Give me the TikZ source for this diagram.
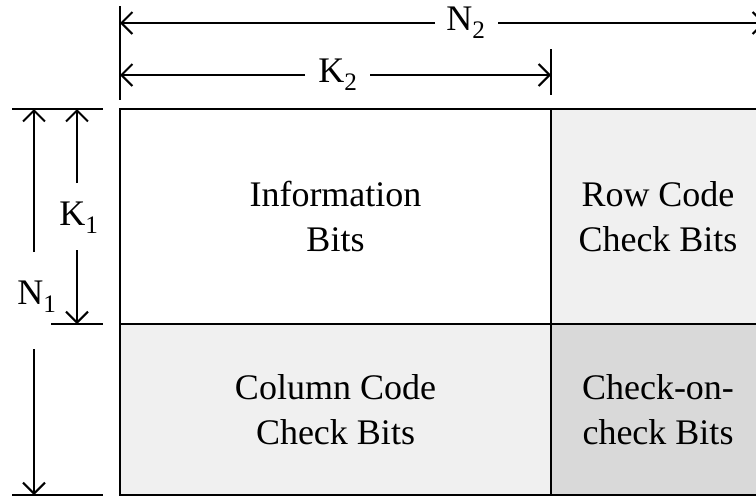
\documentclass[tikz,border=0pt]{standalone}
\usepackage{fontspec}
\setmainfont{Liberation Serif}
\usetikzlibrary{arrows.meta}
\definecolor{paritylight}{HTML}{F0F0F0}
\definecolor{paritydark}{HTML}{D9D9D9}
\tikzset{
  cell/.style={draw=black, line width=2pt},
  celltext/.style={align=center, font=\fontsize{36}{45}\selectfont, inner sep=0pt},
  dimtext/.style={font=\fontsize{36}{45}\selectfont, inner sep=0pt},
  extline/.style={line width=2pt},
  dimline/.style={line width=2pt, arrows={-Straight Barb[length=11pt,width=22pt,line width=2pt]}},
}
\begin{document}
\begin{tikzpicture}[x=1pt,y=-1pt]
\useasboundingbox (0,0) rectangle (756,496);

% product code array: four blocks
\fill[white]        (120,109) rectangle (551,324);
\fill[paritylight]  (551,109) rectangle (765,324);
\fill[paritylight]  (120,324) rectangle (551,495);
\fill[paritydark]   (551,324) rectangle (765,495);
\draw[cell] (120,109) rectangle (765,495);
\draw[cell] (551,109) -- (551,495);
\draw[cell] (120,324) -- (765,324);

\node[celltext] (info)  at (335.5,216.5) {Information\\Bits};
\node[celltext] (rowck) at (658,216.5)   {Row Code\\Check Bits};
\node[celltext] (colck) at (335.5,409.5) {Column Code\\Check Bits};
\node[celltext] (cock)  at (658,409.5)   {Check-on-\\check Bits};

% extension lines
\draw[extline] (120,6) -- (120,100);
\draw[extline] (551,49) -- (551,95);
\draw[extline] (12,109) -- (103,109);
\draw[extline] (51,324) -- (103,324);
\draw[extline] (12,495) -- (103,495);

% horizontal dimensions
\node[dimtext] (n2) at (466,23) {N\textsubscript{2}};
\coordinate (n2l) at (120,23);  \coordinate (n2la) at (435,23);
\coordinate (n2r) at (765,23);  \coordinate (n2ra) at (498,23);
\draw[dimline] (n2la) -- (n2l);
\draw[dimline] (n2ra) -- (n2r);

\node[dimtext] (k2) at (338,75) {K\textsubscript{2}};
\coordinate (k2l) at (120,75);  \coordinate (k2la) at (305,75);
\coordinate (k2r) at (551,75);  \coordinate (k2ra) at (370,75);
\draw[dimline] (k2la) -- (k2l);
\draw[dimline] (k2ra) -- (k2r);

% vertical dimensions
\node[dimtext] (k1) at (79,218) {K\textsubscript{1}};
\coordinate (k1t) at (77,109);  \coordinate (k1ta) at (77,183);
\coordinate (k1b) at (77,324);  \coordinate (k1ba) at (77,250);
\draw[dimline] (k1ta) -- (k1t);
\draw[dimline] (k1ba) -- (k1b);

\node[dimtext] (n1) at (37,297) {N\textsubscript{1}};
\coordinate (n1t) at (34,109);  \coordinate (n1ta) at (34,252);
\coordinate (n1b) at (34,495);  \coordinate (n1ba) at (34,349);
\draw[dimline] (n1ta) -- (n1t);
\draw[dimline] (n1ba) -- (n1b);
\end{tikzpicture}
\end{document}
